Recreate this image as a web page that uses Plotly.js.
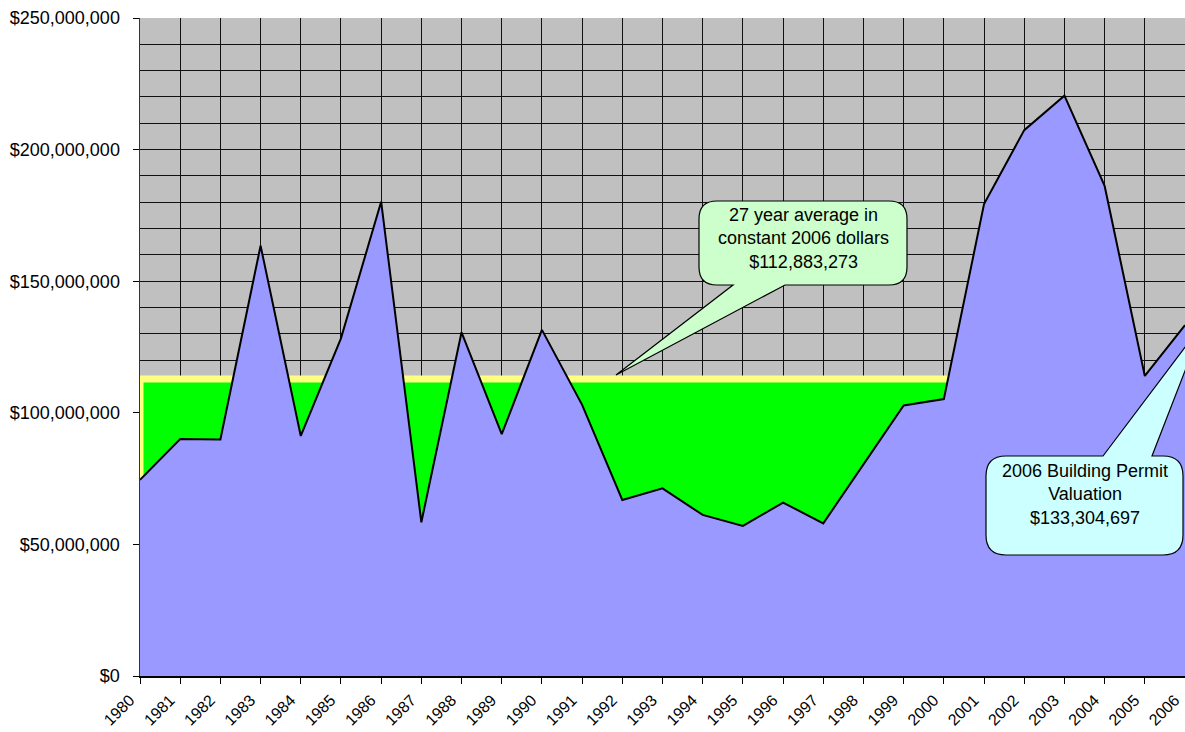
<!DOCTYPE html>
<html>
<head>
<meta charset="utf-8">
<script src="https://cdn.plot.ly/plotly-3.0.1.min.js"></script>
<style>
  html, body { margin: 0; padding: 0; background: #ffffff; }
  #chart { width: 1185px; height: 732px; }
</style>
</head>
<body>
<div id="chart"></div>
<script>
// ---------- DATA ----------
const years = [1980, 1981, 1982, 1983, 1984, 1985, 1986, 1987, 1988, 1989,
               1990, 1991, 1992, 1993, 1994, 1995, 1996, 1997, 1998, 1999,
               2000, 2001, 2002, 2003, 2004, 2005, 2006];

// Building permit valuation in constant 2006 dollars
const valuation = [74500000, 90000000, 89900000, 163500000, 91200000, 128300000,
                   180200000, 58400000, 130600000, 91900000, 131500000, 103000000,
                   66900000, 71300000, 61200000, 57000000, 65900000, 58000000,
                   80400000, 102800000, 105200000, 179300000, 207400000, 220500000,
                   186200000, 114000000, 133304697];

// 27 year average in constant 2006 dollars
const average = [112883273, 112883273, 112883273, 112883273, 112883273, 112883273,
                 112883273, 112883273, 112883273, 112883273, 112883273, 112883273,
                 112883273, 112883273, 112883273, 112883273, 112883273, 112883273,
                 112883273, 112883273, 112883273, 112883273, 112883273, 112883273,
                 112883273, 112883273, 112883273];

const yTickVals = [0, 50000000, 100000000, 150000000, 200000000, 250000000];
const yTickText = ['$0', '$50,000,000', '$100,000,000', '$150,000,000', '$200,000,000', '$250,000,000'];
const xTickText = years.map(String);

const calloutAvgText = '27 year average in<br>constant 2006 dollars<br>$112,883,273';
const callout2006Text = '2006 Building Permit<br>Valuation<br>$133,304,697';

// ---------- LAYOUT HELPERS ----------
const W = 1185, H = 732;
const M = { l: 140, r: 0, t: 18, b: 56 };
const PW = W - M.l - M.r, PH = H - M.t - M.b;
const FONT = 'Liberation Sans, Arial, Helvetica, sans-serif';

// pixel -> paper coordinates (for decorative callout shapes)
function px(x) { return ((x - M.l) / PW).toFixed(5); }
function py(y) { return ((H - M.b - y) / PH).toFixed(5); }
function P(x, y) { return px(x) + ',' + py(y); }

function calloutBottomTail(L, T, R, B, r, a, b, tx, ty) {
  return 'M' + P(L + r, T) + ' L' + P(R - r, T) + ' Q' + P(R, T) + ' ' + P(R, T + r) +
         ' L' + P(R, B - r) + ' Q' + P(R, B) + ' ' + P(R - r, B) +
         ' L' + P(b, B) + ' L' + P(tx, ty) + ' L' + P(a, B) +
         ' L' + P(L + r, B) + ' Q' + P(L, B) + ' ' + P(L, B - r) +
         ' L' + P(L, T + r) + ' Q' + P(L, T) + ' ' + P(L + r, T) + ' Z';
}
function calloutTopTail(L, T, R, B, r, a, b, tx, ty) {
  return 'M' + P(L + r, T) + ' L' + P(a, T) + ' L' + P(tx, ty) + ' L' + P(b, T) +
         ' L' + P(R - r, T) + ' Q' + P(R, T) + ' ' + P(R, T + r) +
         ' L' + P(R, B - r) + ' Q' + P(R, B) + ' ' + P(R - r, B) +
         ' L' + P(L + r, B) + ' Q' + P(L, B) + ' ' + P(L, B - r) +
         ' L' + P(L, T + r) + ' Q' + P(L, T) + ' ' + P(L + r, T) + ' Z';
}

// ---------- TRACES ----------
const avgTrace = {
  x: [years[0]].concat(years, [years[years.length - 1]]),
  y: [0].concat(average, [0]),
  type: 'scatter',
  mode: 'lines',
  fill: 'toself',
  fillcolor: '#00FF00',
  line: { color: '#FFFF80', width: 7 },
  hoverinfo: 'skip'
};

const valTrace = {
  x: years,
  y: valuation,
  type: 'scatter',
  mode: 'lines',
  fill: 'tozeroy',
  fillcolor: '#9999FF',
  line: { color: '#000000', width: 2 },
  hoverinfo: 'skip'
};

const layout = {
  width: W,
  height: H,
  margin: { l: M.l, r: M.r, t: M.t, b: M.b, pad: 0 },
  paper_bgcolor: '#FFFFFF',
  plot_bgcolor: '#C0C0C0',
  showlegend: false,
  font: { family: FONT, color: '#000000' },
  xaxis: {
    type: 'linear',
    range: [years[0], years[years.length - 1]],
    tickmode: 'array',
    tickvals: years,
    ticktext: xTickText,
    tickangle: -45,
    ticks: 'outside',
    ticklen: 6,
    tickwidth: 1,
    tickcolor: '#000000',
    ticklabelstandoff: 1,
    ticklabelshift: -10,
    ticklabeloverflow: 'allow',
    showgrid: true,
    gridcolor: '#111111',
    gridwidth: 1,
    showline: true,
    linecolor: '#000000',
    linewidth: 1.5,
    zeroline: false,
    automargin: false,
    tickfont: { family: FONT, size: 16, color: '#000000' }
  },
  yaxis: {
    range: [0, 250000000],
    tickmode: 'array',
    tickvals: yTickVals,
    ticktext: yTickText,
    ticks: 'outside',
    ticklen: 6,
    tickwidth: 1,
    tickcolor: '#000000',
    ticklabelstandoff: 9,
    showgrid: true,
    gridcolor: '#111111',
    gridwidth: 1,
    minor: { dtick: 10000000, tick0: 0, showgrid: true, gridcolor: '#111111', gridwidth: 1, ticks: '' },
    showline: true,
    linecolor: '#333333',
    linewidth: 1.5,
    zeroline: false,
    automargin: false,
    tickfont: { family: FONT, size: 18, color: '#000000' }
  },
  shapes: [
    {
      type: 'path', xref: 'paper', yref: 'paper', layer: 'above',
      path: calloutBottomTail(699, 201, 907, 285, 18, 733, 785, 616, 375),
      fillcolor: '#CCFFCC', line: { color: '#000000', width: 1.2 }
    },
    {
      type: 'path', xref: 'paper', yref: 'paper', layer: 'above',
      path: calloutTopTail(986, 456, 1183, 555, 20, 1103, 1152, 1204, 322),
      fillcolor: '#CCFFFF', line: { color: '#000000', width: 1.2 }
    }
  ],
  annotations: [
    {
      xref: 'paper', yref: 'paper', x: +px(803), y: +py(238),
      xanchor: 'center', yanchor: 'middle', showarrow: false, align: 'center',
      text: calloutAvgText, font: { family: FONT, size: 18, color: '#000000' }
    },
    {
      xref: 'paper', yref: 'paper', x: +px(1085), y: +py(495),
      xanchor: 'center', yanchor: 'middle', showarrow: false, align: 'center',
      text: callout2006Text, font: { family: FONT, size: 18, color: '#000000' }
    }
  ]
};

Plotly.newPlot('chart', [avgTrace, valTrace], layout, { displayModeBar: false, staticPlot: true });
</script>
</body>
</html>
